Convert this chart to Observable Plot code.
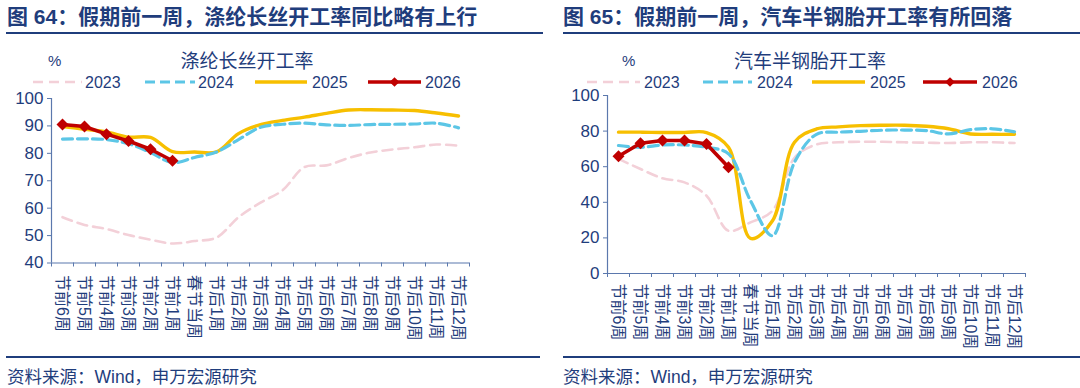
<!DOCTYPE html>
<html><head><meta charset="utf-8">
<script src="https://cdn.jsdelivr.net/npm/d3@7"></script>
<script src="https://cdn.jsdelivr.net/npm/@observablehq/plot@0.6"></script>
<style>
body{margin:0;background:#fff;}
#root{position:relative;width:1080px;height:388px;overflow:hidden;font-family:"Liberation Sans","Noto Sans CJK SC",sans-serif;color:#1f3d7c;background:#fff;}
.abs{position:absolute;white-space:nowrap;}
.title{font-size:21px;font-weight:bold;top:5px;line-height:24px;}
.rule{position:absolute;height:2px;background:#1f3d7c;}
.sub{font-size:19px;top:51px;line-height:22px;transform:translateX(-50%);}
.pct{font-size:15px;top:52px;line-height:18px;}
.src{font-size:17.5px;top:366px;line-height:22px;}
.panel{position:absolute;}
</style>
</head><body>
<div id="root">
  <div class="abs title" style="left:7px">图 64：假期前一周，涤纶长丝开工率同比略有上行</div>
  <div class="abs title" style="left:563px">图 65：假期前一周，汽车半钢胎开工率有所回落</div>
  <div class="rule" style="left:6px;width:537px;top:32px"></div>
  <div class="rule" style="left:563px;width:517px;top:32px"></div>
  <div class="abs pct" style="left:48px">%</div>
  <div class="abs pct" style="left:622px">%</div>
  <div class="abs sub" style="left:247px">涤纶长丝开工率</div>
  <div class="abs sub" style="left:810px">汽车半钢胎开工率</div>
  <div id="left" class="panel" style="left:0;top:85px"></div>
  <div id="right" class="panel" style="left:540px;top:85px"></div>
  <svg id="legend" class="abs" style="left:0;top:0" width="1080" height="388"></svg>
  <div class="rule" style="left:6px;width:534px;top:356px"></div>
  <div class="rule" style="left:563px;width:517px;top:356px"></div>
  <div class="abs src" style="left:7px">资料来源：Wind，申万宏源研究</div>
  <div class="abs src" style="left:563px">资料来源：Wind，申万宏源研究</div>
</div>
<script>
// ---- data ----
const categories = ["节前6周","节前5周","节前4周","节前3周","节前2周","节前1周","春节当周",
  "节后1周","节后2周","节后3周","节后4周","节后5周","节后6周","节后7周","节后8周","节后9周","节后10周","节后11周","节后12周"];
const seriesNames = ["2023","2024","2025","2026"];

// 涤纶长丝开工率
const polyester2023 = [56.7,53.9,52.4,50.2,48.5,47.1,48.0,49.3,56.7,62.0,66.5,75.0,75.6,78.3,80.3,81.4,82.2,83.2,82.8];
const polyester2024 = [85.2,85.3,85.0,83.5,80.3,76.6,78.5,80.5,85.0,89.5,90.6,91.0,90.4,90.2,90.5,90.6,90.7,91.0,89.3];
const polyester2025 = [89.8,88.8,87.8,85.9,85.8,80.6,80.5,80.5,87.2,90.5,92.0,93.2,94.6,95.8,95.9,95.8,95.6,94.7,93.6];
const polyester2026 = [90.5,89.8,87.0,84.5,81.5,77.3];

// 汽车半钢胎开工率
const tire2023 = [64.4,58.7,53.5,51.2,43.7,24.0,28.7,35.3,65.0,72.5,73.7,74.0,74.0,73.7,73.5,73.3,73.7,73.7,73.3];
const tire2024 = [71.9,70.9,72.2,72.2,70.9,67.2,40.9,21.2,62.5,78.2,79.4,79.9,80.5,80.6,80.3,78.4,80.8,81.3,79.6];
const tire2025 = [79.4,79.4,79.2,79.2,79.2,70.9,19.7,29.6,73.7,81.2,82.4,83.1,83.3,83.3,82.7,81.3,78.4,78.2,78.2];
const tire2026 = [65.9,73.2,74.7,74.7,72.8,59.7];

const yTicksLeft = [40,50,60,70,80,90,100];
const yTicksRight = [0,20,40,60,80,100];

// ---- styles ----
const navy = "#1f3d7c";
const axisColor = "#5b78ad";
const styles = {
  "2023": {stroke:"#f3d0d8", strokeWidth:2.6, strokeDasharray:"10,6"},
  "2024": {stroke:"#5cc6e6", strokeWidth:3.2, strokeDasharray:"10,5"},
  "2025": {stroke:"#f7bf00", strokeWidth:3.4},
  "2026": {stroke:"#bf0000", strokeWidth:3.6}
};

function rows(values){ return values.map((v,i)=>({i, v})); }

function panel(el, cfg){
  const n = categories.length;
  const [s23,s24,s25,s26] = cfg.series.map(rows);
  const chart = Plot.plot({
    width: 540, height: cfg.height,
    marginTop: cfg.marginTop, marginBottom: cfg.marginBottom,
    marginLeft: cfg.marginLeft, marginRight: cfg.marginRight,
    style: {fontFamily:'"Liberation Sans","Noto Sans CJK SC",sans-serif', color: navy, background:"transparent", overflow:"visible"},
    x: {type:"linear", domain:[-0.5, n-0.5]},
    y: {domain: cfg.yDomain},
    marks: [
      Plot.axisY({ticks: cfg.yTicks, tickSize:4, tickPadding:4, fontSize:17, stroke: axisColor, label:null}),
      Plot.axisX({ticks: d3.range(-0.5, n), tickSize:4, tickFormat:()=>"", stroke: axisColor, label:null}),
      Plot.axisX({ticks: d3.range(n), tickSize:0, tickPadding: cfg.labelPad, tickRotate:90, fontSize:16, tickFormat:i=>categories[i], label:null}),
      Plot.ruleX([-0.5], {stroke: axisColor, strokeWidth:1.2}),
      Plot.ruleY([cfg.yDomain[0]], {stroke: axisColor, strokeWidth:1.2}),
      Plot.line(s23, {x:"i", y:"v", curve:"catmull-rom", ...styles["2023"]}),
      Plot.line(s25, {x:"i", y:"v", curve:"catmull-rom", ...styles["2025"]}),
      Plot.line(s24, {x:"i", y:"v", curve:"catmull-rom", ...styles["2024"]}),
      Plot.line(s26, {x:"i", y:"v", ...styles["2026"]}),
      Plot.dot(s26, {x:"i", y:"v", symbol:"diamond2", r:5.4, fill:"#bf0000", stroke:"none"})
    ]
  });
  el.appendChild(chart);
}

panel(document.getElementById("left"), {
  height: 260, marginTop: 13, marginBottom: 82.5, marginLeft: 51, marginRight: 71,
  yDomain: [40,100], yTicks: yTicksLeft, labelPad: 12,
  series: [polyester2023, polyester2024, polyester2025, polyester2026]
});
panel(document.getElementById("right"), {
  height: 265, marginTop: 10, marginBottom: 77, marginLeft: 67, marginRight: 55,
  yDomain: [0,100], yTicks: yTicksRight, labelPad: 10,
  series: [tire2023, tire2024, tire2025, tire2026]
});

// ---- legends ----
const legendSvg = d3.select("#legend");
const legendItems = [
  {x0:33, x1:82, tx:85}, {x0:145, x1:195, tx:198}, {x0:255, x1:307, tx:312}, {x0:368, x1:421, tx:425},
  {x0:587, x1:640, tx:644}, {x0:703, x1:752, tx:757}, {x0:812, x1:865, tx:870}, {x0:923, x1:977, tx:982}
];
legendItems.forEach((it, k) => {
  const name = seriesNames[k % 4];
  const st = styles[name];
  const y = 82;
  legendSvg.append("line").attr("x1", it.x0).attr("x2", it.x1).attr("y1", y).attr("y2", y)
    .attr("stroke", st.stroke).attr("stroke-width", st.strokeWidth)
    .attr("stroke-dasharray", st.strokeDasharray || null);
  if (name === "2026") {
    const cx = (it.x0 + it.x1)/2;
    legendSvg.append("path").attr("d", d3.symbol(d3.symbolDiamond2, 60)()).attr("transform", `translate(${cx},${y})`).attr("fill", "#bf0000");
  }
  legendSvg.append("text").attr("x", it.tx).attr("y", y).attr("dy", "0.36em")
    .attr("font-size", 16).attr("fill", navy)
    .attr("font-family", '"Liberation Sans","Noto Sans CJK SC",sans-serif').text(name);
});
</script>
</body></html>
